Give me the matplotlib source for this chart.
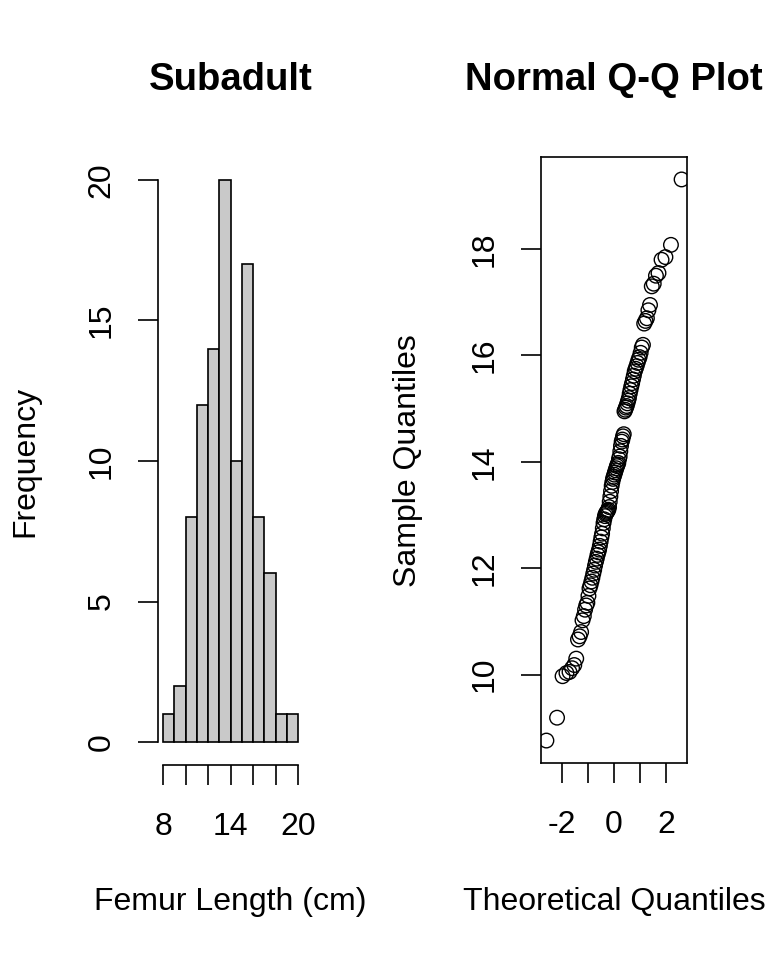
import matplotlib
matplotlib.use("Agg")
import matplotlib.pyplot as plt
import numpy as np
from statistics import NormalDist

plt.rcParams['font.family'] = ['Liberation Sans', 'DejaVu Sans']

# ---- data ----
bin_edges = [8, 9, 10, 11, 12, 13, 14, 15, 16, 17, 18, 19, 20]
hist_counts = [1, 2, 8, 12, 14, 20, 10, 17, 8, 6, 1, 1]

sample_sorted = [
    8.76, 9.19, 9.97,
    10.03, 10.05, 10.12, 10.18, 10.30, 10.66, 10.72, 10.80,
    11.02, 11.10, 11.22, 11.30, 11.35, 11.48, 11.62, 11.68, 11.75, 11.82, 11.90, 11.97,
    12.05, 12.12, 12.18, 12.25, 12.30, 12.35, 12.42, 12.50, 12.58, 12.65, 12.75, 12.85, 12.92, 12.98,
    13.02, 13.04, 13.06, 13.08, 13.10, 13.15, 13.25, 13.35, 13.45, 13.55, 13.62, 13.68, 13.72, 13.76,
    13.80, 13.84, 13.88, 13.92, 13.95, 13.98,
    14.05, 14.10, 14.20, 14.30, 14.38, 14.42, 14.48, 14.52, 14.95, 14.98,
    15.02, 15.05, 15.10, 15.15, 15.20, 15.28, 15.35, 15.42, 15.48, 15.55, 15.62, 15.70, 15.75, 15.80,
    15.86, 15.92, 15.97,
    16.05, 16.15, 16.20, 16.60, 16.65, 16.70, 16.85, 16.95,
    17.30, 17.35, 17.50, 17.55, 17.80, 17.85,
    18.08, 19.31,
]

hist_xticks = [8, 10, 12, 14, 16, 18, 20]
hist_xticklabels = ['8', '', '', '14', '', '', '20']
hist_yticks = [0, 5, 10, 15, 20]
qq_xticks = [-2, -1, 0, 1, 2]
qq_xticklabels = ['-2', '', '0', '', '2']
qq_yticks = [10, 12, 14, 16, 18]

W, H = 768, 960
fig = plt.figure(figsize=(W / 100, H / 100), dpi=100)

fs = 23
tfs = 27.5
tick_len = 14.4
xpad = 19.7
ypad = 15.2

def fr(x0, y0, x1, y1):
    return [x0 / W, 1 - y1 / H, (x1 - x0) / W, (y1 - y0) / H]

# ---- histogram ----
ax1 = fig.add_axes(fr(157.6, 157.5, 303.4, 764.5))
lefts = bin_edges[:-1]
widths = np.diff(bin_edges)
ax1.bar(lefts, hist_counts, width=widths, align='edge',
        color='#C9C9C9', edgecolor='black', linewidth=1.2)
ax1.set_xlim(7.52, 20.48)
ax1.set_ylim(-0.8, 20.8)
for s in ['top', 'right']:
    ax1.spines[s].set_visible(False)
ax1.spines['left'].set_bounds(0, 20)
ax1.spines['bottom'].set_bounds(8, 20)
for s in ['left', 'bottom']:
    ax1.spines[s].set_linewidth(1.2)
ax1.set_xticks(hist_xticks)
ax1.set_xticklabels(hist_xticklabels)
ax1.set_yticks(hist_yticks)
ax1.set_yticklabels([str(v) for v in hist_yticks], rotation=90, va='center')
ax1.tick_params(axis='both', length=tick_len, width=1.2, labelsize=fs, direction='out')
ax1.tick_params(axis='x', pad=xpad)
ax1.tick_params(axis='y', pad=ypad)

# ---- QQ plot ----
n = len(sample_sorted)
theo = [NormalDist().inv_cdf((i + 0.5) / n) for i in range(n)]
ax2 = fig.add_axes(fr(541, 157, 687, 763))
ax2.scatter(theo, sample_sorted, s=110, facecolors='none', edgecolors='black', linewidths=1.0)
r = max(theo) - min(theo)
ax2.set_xlim(min(theo) - 0.04 * r, max(theo) + 0.04 * r)
ry = max(sample_sorted) - min(sample_sorted)
ax2.set_ylim(min(sample_sorted) - 0.04 * ry, max(sample_sorted) + 0.04 * ry)
for s in ax2.spines.values():
    s.set_linewidth(1.2)
ax2.set_xticks(qq_xticks)
ax2.set_xticklabels(qq_xticklabels)
ax2.set_yticks(qq_yticks)
ax2.set_yticklabels([str(v) for v in qq_yticks], rotation=90, va='center')
ax2.tick_params(axis='both', length=tick_len, width=1.2, labelsize=fs, direction='out')
ax2.tick_params(axis='x', pad=xpad)
ax2.tick_params(axis='y', pad=ypad)

# ---- titles & labels ----
fig.text(230.5 / W, 1 - 80 / H, 'Subadult', ha='center', va='center',
         fontsize=tfs, fontweight='bold')
fig.text(614 / W, 1 - 80 / H, 'Normal Q-Q Plot', ha='center', va='center',
         fontsize=tfs, fontweight='bold')
fig.text(230.5 / W, 1 - 902 / H, 'Femur Length (cm)', ha='center', va='center', fontsize=fs)
fig.text(614 / W, 1 - 902 / H, 'Theoretical Quantiles', ha='center', va='center', fontsize=fs)
fig.text(25 / W, 1 - 461 / H, 'Frequency', ha='center', va='center', fontsize=fs, rotation=90)
fig.text(408 / W, 1 - 461 / H, 'Sample Quantiles', ha='center', va='center', fontsize=fs, rotation=90)

fig.savefig('out.png', dpi=100, facecolor='white')
